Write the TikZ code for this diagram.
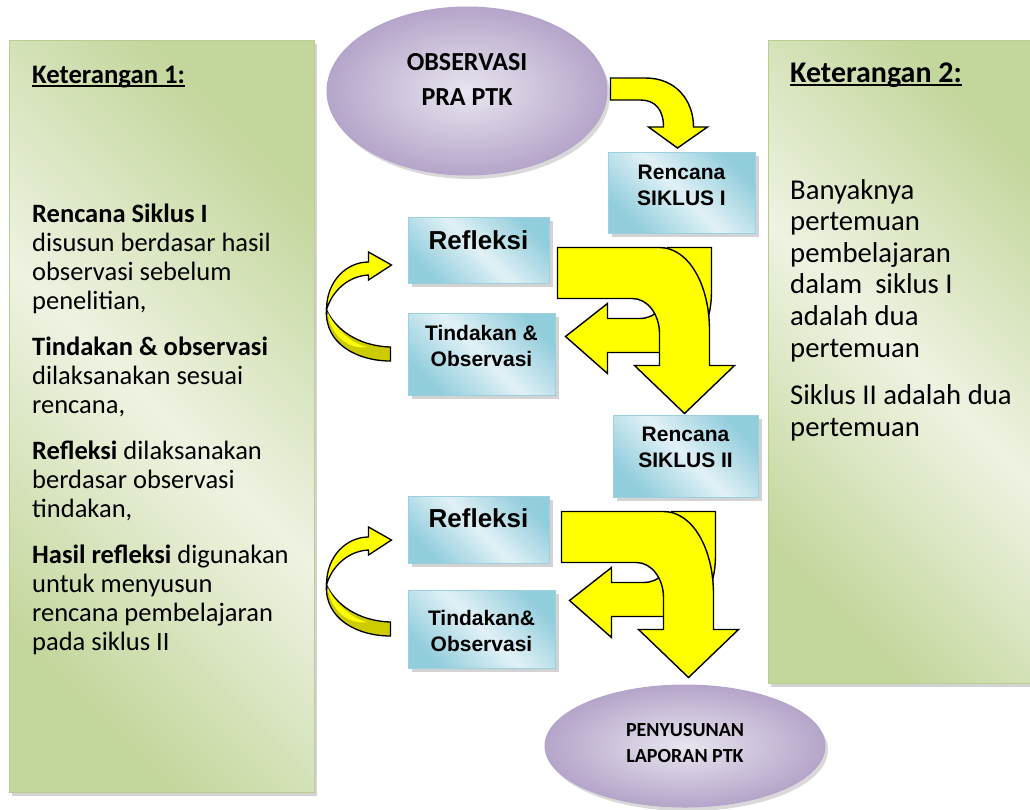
\documentclass[tikz,border=0pt]{standalone}
\usepackage{fontspec}
\setmainfont{Carlito}
\newfontfamily\arialfont{Liberation Sans}
\usetikzlibrary{shapes.geometric,shadows}

\definecolor{grnDark}{HTML}{C3D69B}
\definecolor{grnLight}{HTML}{EEF3E2}
\definecolor{grnEdge}{HTML}{B9CE8E}
\definecolor{bluDark}{HTML}{92CDDC}
\definecolor{bluLight}{HTML}{E1F1F6}
\definecolor{bluEdge}{HTML}{9BD1DF}
\definecolor{ellDark}{HTML}{B5A5CA}
\definecolor{ellLight}{HTML}{E9E5EF}
\definecolor{arrYel}{HTML}{FFFF00}
\definecolor{arrOlv}{HTML}{CCCC00}

% underlined heading
\newcommand\ulhead[1]{\setbox0=\hbox{#1}\rlap{\rule[-3.5pt]{\wd0}{1.6pt}}\box0}

\begin{document}
\begin{tikzpicture}[x=1pt, y=-1pt,
  panel/.style={draw=grnEdge, line width=1pt, inner sep=0pt, left color=grnDark, right color=grnDark, middle color=grnLight, shading angle=135, drop shadow={shadow xshift=3pt, shadow yshift=-4pt, opacity=.35}},
  blk/.style={draw=bluEdge, line width=1pt, inner sep=0pt, left color=bluDark, right color=bluDark, middle color=bluLight, shading angle=135, drop shadow={shadow xshift=4pt, shadow yshift=-4pt, opacity=.35}},
  ell/.style={ellipse, draw=ellDark, line width=1pt, inner sep=0pt, inner color=ellLight, outer color=ellDark, drop shadow={shadow xshift=3pt, shadow yshift=-4pt, opacity=.3}},
  ptxt/.style={inner sep=0pt, align=left, anchor=north west},
  htxt/.style={inner sep=0pt, anchor=base west, font={\bfseries\fontsize{26.7}{30}\selectfont}},
  btxt/.style={inner sep=0pt, align=center, font={\arialfont\bfseries\fontsize{21}{26}\selectfont}},
  etxt/.style={inner sep=0pt, align=center, font={\bfseries\fontsize{20}{26}\selectfont}},
  yarr/.style={fill=arrYel, draw=black, line width=1.4pt, line join=miter},
  olv/.style={fill=arrOlv, draw=black, line width=1.3pt}
]
\useasboundingbox (0,0) rectangle (1030,809);
% side panels
\node[panel, minimum width=305pt, minimum height=752pt] (ket1) at (161.5,416) {};
\node[panel, minimum width=280pt, minimum height=643pt] (ket2) at (908,361.5) {};
\node[htxt] (ket1h) at (32,83) {\ulhead{Keterangan 1:}};
\node[htxt, font={\bfseries\fontsize{30}{34}\selectfont}] (ket2h) at (790,82) {\ulhead{Keterangan 2:}};
\node[ptxt, font={\fontsize{26.5}{29}\selectfont}] (ket1b) at (32,204) {%
\textbf{Rencana Siklus I}\\
disusun berdasar hasil\\
observasi sebelum\\
penelitian,\\[17pt]
\textbf{Tindakan \& observasi}\\
dilaksanakan sesuai\\
rencana,\\[17pt]
\textbf{Refleksi} dilaksanakan\\
berdasar observasi\\
tindakan,\\[17pt]
\textbf{Hasil refleksi} digunakan\\
untuk menyusun\\
rencana pembelajaran\\
pada siklus II};
\node[ptxt, font={\fontsize{28.7}{31.6}\selectfont}] (ket2b) at (790,179) {%
Banyaknya\\
pertemuan\\
pembelajaran\\
dalam~ siklus I\\
adalah dua\\
pertemuan\\[16pt]
Siklus II adalah dua\\
pertemuan};
% start and end
\node[ell, minimum width=280pt, minimum height=168pt] (obs) at (467,91) {};
\node[etxt, font={\bfseries\fontsize{26}{35}\selectfont}] (obst) at (467,79) {OBSERVASI\\PRA PTK};
\node[ell, minimum width=280pt, minimum height=122pt] (lap) at (685,746) {};
\node[etxt] (lapt) at (685,743) {PENYUSUNAN\\LAPORAN PTK};
% cycle I
\node[blk, minimum width=147pt, minimum height=81pt] (r1) at (681.5,192.5) {};
\node[btxt] (r1t) at (681.5,185) {Rencana\\SIKLUS I};
\node[blk, minimum width=141pt, minimum height=66pt] (ref1) at (478.5,250) {};
\node[btxt, font={\arialfont\bfseries\fontsize{26}{30}\selectfont}] (ref1t) at (478.5,240) {Refleksi};
\node[blk, minimum width=147pt, minimum height=82pt] (tin1) at (481.5,354) {};
\node[btxt] (tin1t) at (481.5,346) {Tindakan \&\\Observasi};
% cycle II
\node[blk, minimum width=145pt, minimum height=82pt] (r2) at (685.5,456) {};
\node[btxt] (r2t) at (685.5,447) {Rencana\\SIKLUS II};
\node[blk, minimum width=141pt, minimum height=67pt] (ref2) at (478.5,529.5) {};
\node[btxt, font={\arialfont\bfseries\fontsize{26}{30}\selectfont}] (ref2t) at (478.5,518) {Refleksi};
\node[blk, minimum width=147pt, minimum height=78pt] (tin2) at (481.5,629) {};
\node[btxt] (tin2t) at (481.5,631) {Tindakan\&\\Observasi};
% arrow from observasi to rencana I
\begin{scope}[shift={(obs.east)}]
\filldraw[yarr] (3,-13) -- (38,-13) .. controls (68,-13) and (86,9) .. (86,36) -- (100,36) -- (70,57) -- (41,36) -- (56,36) .. controls (56,19) and (48,9) .. (33,9) -- (3,9) -- cycle;
\end{scope}
% the two cycles
\foreach \r/\t in {r1/tin1, r2/tin2} {
  \begin{scope}[shift={(\r.south)}]
    % back to tindakan
    \filldraw[yarr] (-14,14) -- (30,14) -- (30,57) .. controls (30,102) and (8,119) .. (-22,119) -- (-74,119) -- (-74,140) -- (-116,103) -- (-74,70) -- (-74,85) -- (-42,85) .. controls (-26,85) and (-14,72) .. (-14,57) -- cycle;
    % out of refleksi, down to next step
    \filldraw[yarr] (-124,14) -- (-22,14) .. controls (7,14) and (28,51) .. (28,97) -- (28,132) -- (53,132) -- (3,180) -- (-47,132) -- (-22,132) -- (-22,100) .. controls (-22,81) and (-34,65) .. (-49,65) -- (-124,65) -- cycle;
  \end{scope}
  \begin{scope}[shift={(\t.west)}]
    % curved arrow tindakan -> refleksi
    \filldraw[olv] (-81,-44) .. controls (-83,-10) and (-50,7) .. (-17,7) -- (-17,-7) .. controls (-50,-8) and (-72,-25) .. (-81,-44) -- cycle;
    \fill[arrYel] (-80,-42) .. controls (-72,-25) and (-56,-10) .. (-40,-7) .. controls (-58,-4) and (-77,-18) .. (-80,-42) -- cycle;
    \filldraw[yarr, line width=1.3pt] (-81,-44) .. controls (-81,-74) and (-60,-92) .. (-39,-92) -- (-39,-102) -- (-16,-89) -- (-39,-74) -- (-39,-79) .. controls (-60,-78) and (-76,-62) .. (-81,-44) -- cycle;
  \end{scope}
}
\end{tikzpicture}
\end{document}
